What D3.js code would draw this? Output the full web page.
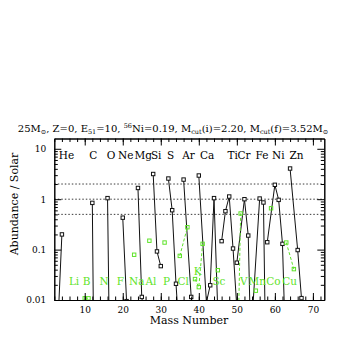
<!DOCTYPE html>
<html>
<head>
<meta charset="utf-8">
<script src="https://cdn.jsdelivr.net/npm/d3@7"></script>
<style>
  body { margin: 0; background: #fff; }
  text { font-family: "DejaVu Serif", serif; }
</style>
</head>
<body>
<svg id="chart" width="354" height="354"></svg>
<script>
// ----------------------------------------
//  Data (abundance / solar)
// ----------------------------------------

// even Z elements, drawn black
var evenNames = ["He", "C", "O", "Ne", "Mg", "Si", "S", "Ar", "Ca", "Ti", "Cr", "Fe", "Ni", "Zn"];
var evenLabelMass = [5.2, 12.25, 16.9, 20.8, 25.4, 28.8, 32.6, 37.3, 42.2, 48.9, 51.9, 56.6, 60.9, 65.7];
var evenMasses = [
  [3, 4], [12, 13], [16, 17, 18], [20, 21, 22], [24, 25, 26], [28, 29, 30], [32, 33, 34, 36],
  [36, 38, 40], [40, 42, 43, 44, 46, 48], [46, 47, 48, 49, 50], [50, 52, 53, 54],
  [54, 56, 57, 58], [58, 60, 61, 62, 64], [64, 66, 67, 68, 70]
];
var evenValues = [
  [0.004, 0.2], [0.845, 1e-8], [1.05, 1.5e-6, 1e-6], [0.43, 0.0095, 0.003], [1.67, 0.0115, 0.003],
  [3.16, 0.092, 0.047], [2.57, 0.605, 0.021, 1e-4], [2.45, 0.0115, 1e-4],
  [2.95, 0.009, 0.0196, 1.05, 3e-5, 1e-5], [0.147, 0.578, 1.13, 0.105, 0.007],
  [0.055, 1.0, 0.19, 1e-4], [0.004, 1.03, 0.86, 5e-6], [0.14, 1.93, 0.97, 0.13, 1e-6],
  [4.06, 0.098, 0.0109, 0.001, 1e-5]
];

// odd Z elements, drawn green
var oddNames = ["Li", "B", "N", "F", "Na", "Al", "P", "Cl", "K", "Sc", "V", "Mn", "Co", "Cu"];
var oddLabelMass = [7.2, 10.5, 15.1, 19.4, 23.7, 27.4, 31.5, 35.9, 39.7, 45.3, 51.8, 55.4, 59.6, 63.9];
var oddLabelLevel = [0.02, 0.02, 0.02, 0.02, 0.02, 0.02, 0.02, 0.02, 0.032, 0.02, 0.02, 0.02, 0.02, 0.02];
var oddMasses = [
  [6, 7], [10, 11], [14, 15], [19], [23], [27], [31], [35, 37], [39, 40, 41], [45],
  [50, 51], [55], [59], [63, 65]
];
var oddValues = [
  [1e-4, 1e-3], [0.0108, 0.0108], [1e-3, 1e-4], [1e-4], [0.079], [0.15], [0.138],
  [0.075, 0.278], [0.026, 0.018, 0.13], [0.039], [1e-4, 0.52], [0.0153], [0.66], [0.138, 0.041]
];

var refLines = [0.5, 1, 2];
var xMajor = [10, 20, 30, 40, 50, 60, 70];
var yMajor = [0.01, 0.1, 1, 10];
var yLabels = ["0.01", "0.1", "1", "10"];

var titleParts = [
  ["25M", ""], ["\u2299", "sub"], [", Z=0, E", ""], ["51", "sub"], ["=10, ", ""], ["56", "sup"],
  ["Ni=0.19, M", ""], ["cut", "sub"], ["(i)=2.20, M", ""], ["cut", "sub"],
  ["(f)=3.52M", ""], ["\u2299", "sub"]
];

// ----------------------------------------
//  Sizing
// ----------------------------------------
var padL = 54.3, padR = 324.3, padT = 138.5, padB = 300;
var green = "#5fe32a";
var labelFont = "Liberation Serif";

var svg = d3.select("#chart");

var x = d3.scaleLinear().domain([2, 73]).range([padL, padR]);
var y = d3.scaleLog().domain([0.01, 16]).range([padB, padT]);

svg.append("clipPath").attr("id", "plotclip")
  .append("rect")
  .attr("x", padL).attr("y", padT)
  .attr("width", padR - padL).attr("height", padB - padT);

var plot = svg.append("g").attr("clip-path", "url(#plotclip)");

// dotted reference lines
plot.selectAll(".ref").data(refLines).enter().append("line")
  .attr("x1", padL).attr("x2", padR)
  .attr("y1", function(d) { return y(d); })
  .attr("y2", function(d) { return y(d); })
  .attr("stroke", "#222").attr("stroke-width", 0.9)
  .attr("stroke-dasharray", "1.5,2");

function toPoints(masses, values) {
  return masses.map(function(ms, i) {
    return ms.map(function(m, j) { return { m: m, v: values[i][j] }; });
  });
}

var line = d3.line()
  .x(function(d) { return x(d.m); })
  .y(function(d) { return y(d.v); });

var evenPts = toPoints(evenMasses, evenValues);
var oddPts = toPoints(oddMasses, oddValues);

plot.selectAll(".evenline").data(evenPts).enter().append("path")
  .attr("d", line)
  .attr("fill", "none").attr("stroke", "#111").attr("stroke-width", 1);

plot.selectAll(".oddline").data(oddPts).enter().append("path")
  .attr("d", line)
  .attr("fill", "none").attr("stroke", green).attr("stroke-width", 1)
  .attr("stroke-dasharray", "3,2");

var sq = 3.4;
plot.selectAll(".evensq").data(d3.merge(evenPts)).enter().append("rect")
  .attr("x", function(d) { return x(d.m) - sq / 2; })
  .attr("y", function(d) { return y(d.v) - sq / 2; })
  .attr("width", sq).attr("height", sq)
  .attr("fill", "#fff").attr("stroke", "#111").attr("stroke-width", 1);

plot.selectAll(".oddsq").data(d3.merge(oddPts)).enter().append("rect")
  .attr("x", function(d) { return x(d.m) - sq / 2; })
  .attr("y", function(d) { return y(d.v) - sq / 2; })
  .attr("width", sq).attr("height", sq)
  .attr("fill", "none").attr("stroke", green).attr("stroke-width", 1);

// element labels
svg.selectAll(".evenlab").data(evenNames).enter().append("text")
  .attr("x", function(d, i) { return x(evenLabelMass[i]); })
  .attr("y", 159)
  .attr("text-anchor", "middle")
  .attr("font-family", labelFont)
  .attr("font-size", "10.5px")
  .attr("fill", "#000")
  .text(function(d) { return d; });

svg.selectAll(".oddlab").data(oddNames).enter().append("text")
  .attr("x", function(d, i) { return x(oddLabelMass[i]); })
  .attr("y", function(d, i) { return y(oddLabelLevel[i]); })
  .attr("text-anchor", "middle")
  .attr("font-family", labelFont)
  .attr("font-size", "10.5px")
  .attr("fill", green)
  .text(function(d) { return d; });

// ----------------------------------------
//  Axes (ticks pointing inward on all four sides)
// ----------------------------------------
var xMinor = d3.range(2, 74, 2);
var yMinor = [];
[0.01, 0.1, 1, 10].forEach(function(d) {
  for (var k = 2; k <= 9; k++) if (k * d <= 16) yMinor.push(k * d);
});

function styleAxis(g) {
  g.selectAll("path, line").attr("stroke", "#000").attr("stroke-width", 1);
  g.selectAll("text").attr("font-family", "DejaVu Serif").attr("font-size", "9px").attr("fill", "#000");
}

svg.append("g").attr("transform", "translate(0," + padB + ")")
  .call(d3.axisBottom(x).tickValues(xMinor).tickSize(-3.5).tickSizeOuter(0).tickFormat(""))
  .call(styleAxis);
svg.append("g").attr("transform", "translate(0," + padB + ")")
  .call(d3.axisBottom(x).tickValues(xMajor).tickSize(-7).tickSizeOuter(0).tickPadding(7).tickFormat(d3.format("d")))
  .call(styleAxis);
svg.append("g").attr("transform", "translate(0," + padT + ")")
  .call(d3.axisTop(x).tickValues(xMinor).tickSize(-3.5).tickSizeOuter(0).tickFormat(""))
  .call(styleAxis);
svg.append("g").attr("transform", "translate(0," + padT + ")")
  .call(d3.axisTop(x).tickValues(xMajor).tickSize(-7).tickSizeOuter(0).tickFormat(""))
  .call(styleAxis);

svg.append("g").attr("transform", "translate(" + padL + ",0)")
  .call(d3.axisLeft(y).tickValues(yMinor).tickSize(-3.5).tickSizeOuter(0).tickFormat(""))
  .call(styleAxis);
svg.append("g").attr("transform", "translate(" + padL + ",0)")
  .call(d3.axisLeft(y).tickValues(yMajor).tickSize(-7).tickSizeOuter(0).tickPadding(8)
    .tickFormat(function(d, i) { return yLabels[i]; }))
  .call(styleAxis);
svg.append("g").attr("transform", "translate(" + padR + ",0)")
  .call(d3.axisRight(y).tickValues(yMinor).tickSize(-3.5).tickSizeOuter(0).tickFormat(""))
  .call(styleAxis);
svg.append("g").attr("transform", "translate(" + padR + ",0)")
  .call(d3.axisRight(y).tickValues(yMajor).tickSize(-7).tickSizeOuter(0).tickFormat(""))
  .call(styleAxis);

// axis titles
svg.append("text")
  .attr("x", 189).attr("y", 324)
  .attr("text-anchor", "middle").attr("font-size", "11px")
  .text("Mass Number");

svg.append("text")
  .attr("transform", "translate(18,204) rotate(-90)")
  .attr("text-anchor", "middle").attr("font-size", "11px")
  .text("Abundance / Solar");

// title with sub/superscripts
var title = svg.append("text")
  .attr("x", 173).attr("y", 131.5)
  .attr("text-anchor", "middle").attr("font-size", "10px");
var shift = 0;
titleParts.forEach(function(p) {
  var want = p[1] === "sub" ? 2.5 : (p[1] === "sup" ? -3.5 : 0);
  title.append("tspan")
    .attr("dy", want - shift)
    .attr("font-size", p[1] ? "6.5px" : "10px")
    .text(p[0]);
  shift = want;
});
</script>
</body>
</html>
